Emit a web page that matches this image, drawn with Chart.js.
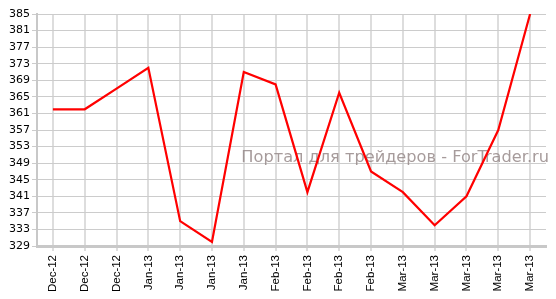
<!DOCTYPE html>
<html>
<head>
<meta charset="utf-8">
<script src="https://cdn.jsdelivr.net/npm/chart.js@4/dist/chart.umd.min.js"></script>
<style>
html,body{margin:0;padding:0;background:#fff;}
#wrap{width:556px;height:299px;position:relative;}
</style>
</head>
<body>
<div id="wrap"><canvas id="c" width="556" height="299"></canvas></div>
<script>
const categories = ["Dec-12","Dec-12","Dec-12","Jan-13","Jan-13","Jan-13","Jan-13","Feb-13","Feb-13","Feb-13","Feb-13","Mar-13","Mar-13","Mar-13","Mar-13","Mar-13"];
const values = [362,362,367,372,335,330,371,368,342,366,347,342,334,341,357,385];
const yMin = 329, yMax = 385, yStep = 4;
const watermark = "Портал для трейдеров - ForTrader.ru";

const watermarkPlugin = {
  id: 'watermark',
  beforeDatasetsDraw(chart) {
    const ctx = chart.ctx;
    ctx.save();
    ctx.font = '16.2px "DejaVu Sans"';
    ctx.fillStyle = 'rgba(150,138,138,0.85)';
    ctx.textAlign = 'right';
    ctx.textBaseline = 'middle';
    ctx.fillText(watermark, 549, 158);
    ctx.restore();
  }
};

new Chart(document.getElementById('c'), {
  type: 'line',
  data: {
    labels: categories,
    datasets: [{
      data: values,
      borderColor: '#ff0000',
      borderWidth: 2.2,
      pointRadius: 0,
      tension: 0,
      fill: false
    }]
  },
  options: {
    responsive: false,
    animation: false,
    plugins: { legend: { display: false }, tooltip: { enabled: false } },
    layout: { padding: { top: 14, right: 10, left: 0, bottom: 0 } },
    scales: {
      x: {
        offset: true,
        grid: { color: '#dddddd', lineWidth: 2, tickLength: 5, offset: false },
        border: { color: '#c8c8c8', width: 3 },
        ticks: { minRotation: 90, maxRotation: 90, autoSkip: false, color: '#000', font: { family: '"Liberation Sans", Arial', size: 11.5 }, padding: 4 },
        afterFit(s) { s.height = 53; }
      },
      y: {
        min: yMin, max: yMax,
        grid: { color: '#cccccc', lineWidth: 1, tickLength: 5 },
        border: { color: '#c8c8c8', width: 2 },
        ticks: { stepSize: yStep, color: '#000', font: { family: '"DejaVu Sans", Verdana', size: 11 }, padding: 2 },
        afterFit(s) { s.width = 37; }
      }
    }
  },
  plugins: [watermarkPlugin]
});
</script>
</body>
</html>
